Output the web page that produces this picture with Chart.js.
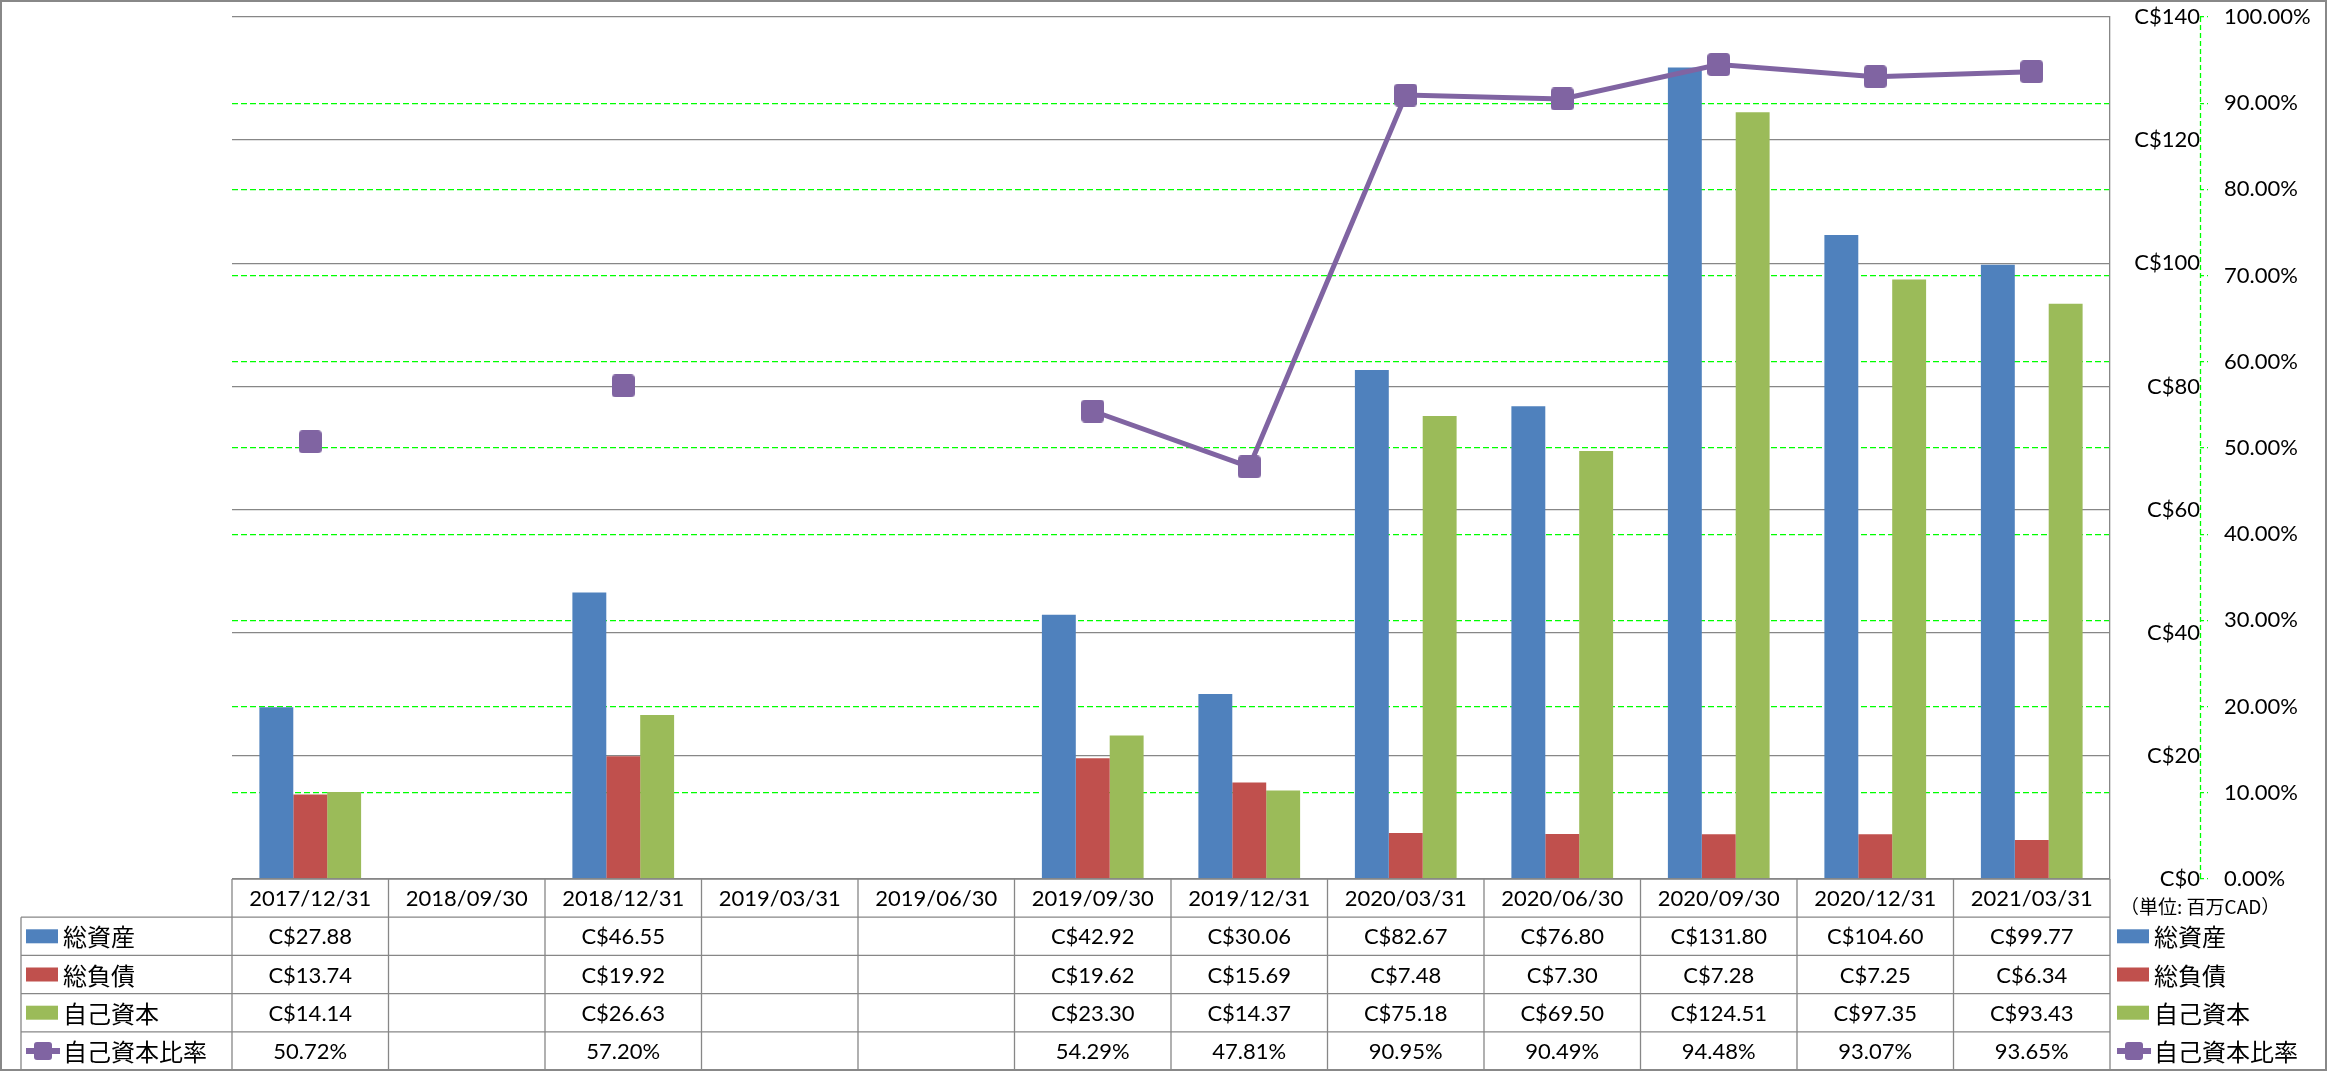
<!DOCTYPE html>
<html>
<head>
<meta charset="utf-8">
<script src="https://cdn.jsdelivr.net/npm/chart.js@4.4.1/dist/chart.umd.min.js"></script>
<style>
  html, body { margin: 0; padding: 0; background: #fff; }
  #wrap { width: 2327px; height: 1071px; position: relative; }
</style>
</head>
<body>
<div id="wrap"><canvas id="chart"></canvas></div>
<script>
// 決算期
const periods = ['2017/12/31', '2018/09/30', '2018/12/31', '2019/03/31', '2019/06/30', '2019/09/30',
  '2019/12/31', '2020/03/31', '2020/06/30', '2020/09/30', '2020/12/31', '2021/03/31'];
// 単位: 百万CAD
const totalAssets = [27.88, null, 46.55, null, null, 42.92, 30.06, 82.67, 76.80, 131.80, 104.60, 99.77];
const totalLiabilities = [13.74, null, 19.92, null, null, 19.62, 15.69, 7.48, 7.30, 7.28, 7.25, 6.34];
const equity = [14.14, null, 26.63, null, null, 23.30, 14.37, 75.18, 69.50, 124.51, 97.35, 93.43];
// 自己資本比率 (%)
const equityRatio = [50.72, null, 57.20, null, null, 54.29, 47.81, 90.95, 90.49, 94.48, 93.07, 93.65];

const seriesNames = ['総資産', '総負債', '自己資本', '自己資本比率'];
const seriesColors = ['#4F81BD', '#C0504D', '#9BBB59', '#8064A2'];
const unitLabel = '（単位: 百万CAD）';

const LATIN = "Lato, 'Noto Sans CJK JP', sans-serif";
const CJK = "'Noto Sans CJK JP', sans-serif";
const gridGray = '#878787';
const green = '#00FF00';

const fmtMoney = v => 'C$' + v.toFixed(2);
const fmtPct = v => v.toFixed(2) + '%';

// マーカー (角の少し丸い四角)
const marker = document.createElement('canvas');
marker.width = 23;
marker.height = 23;
{
  const m = marker.getContext('2d');
  m.fillStyle = seriesColors[3];
  m.beginPath();
  m.roundRect(0, 0, 23, 23, 4);
  m.fill();
}

// 表・凡例・外枠
const tablePlugin = {
  id: 'dataTable',
  beforeDraw(chart) {
    const ctx = chart.ctx;
    ctx.save();
    ctx.fillStyle = '#fff';
    ctx.fillRect(0, 0, chart.width, chart.height);
    ctx.restore();
  },
  afterDraw(chart) {
    const ctx = chart.ctx;
    const area = chart.chartArea;
    const xs = chart.scales.x;
    const n = periods.length;
    const colW = (area.right - area.left) / n;
    const top = area.bottom;
    const rowH = 38.2;
    const leftEdge = 21;
    const bottom = top + rowH * 5;

    const rows = [
      { values: totalAssets, fmt: fmtMoney },
      { values: totalLiabilities, fmt: fmtMoney },
      { values: equity, fmt: fmtMoney },
      { values: equityRatio, fmt: fmtPct }
    ];

    ctx.save();
    // 罫線
    ctx.strokeStyle = gridGray;
    ctx.lineWidth = 1.3;
    ctx.beginPath();
    ctx.moveTo(area.left, top);
    ctx.lineTo(area.right, top);
    for (let k = 1; k <= 5; k++) {
      ctx.moveTo(leftEdge, top + rowH * k);
      ctx.lineTo(area.right, top + rowH * k);
    }
    for (let i = 0; i <= n; i++) {
      const x = area.left + i * colW;
      ctx.moveTo(x, top);
      ctx.lineTo(x, bottom);
    }
    ctx.moveTo(leftEdge, top + rowH);
    ctx.lineTo(leftEdge, bottom);
    ctx.stroke();

    // 見出し
    ctx.fillStyle = '#000';
    ctx.textAlign = 'center';
    ctx.textBaseline = 'middle';
    ctx.font = '22px ' + LATIN;
    periods.forEach((p, i) => {
      ctx.fillText(p, xs.getPixelForValue(i), top + rowH / 2 + 1);
    });

    // 数値
    rows.forEach((r, k) => {
      const cy = top + rowH * (k + 1) + rowH / 2 + 1;
      r.values.forEach((v, i) => {
        if (v === null) return;
        ctx.fillText(r.fmt(v), xs.getPixelForValue(i), cy);
      });
    });

    // 凡例キー (表の左 / 右側)
    const drawKey = (k, x0) => {
      const cy = top + rowH * (k + 1) + rowH / 2;
      if (k < 3) {
        ctx.fillStyle = seriesColors[k];
        ctx.fillRect(x0, cy - 7, 32, 14);
      } else {
        ctx.strokeStyle = seriesColors[3];
        ctx.lineWidth = 6;
        ctx.beginPath();
        ctx.moveTo(x0, cy);
        ctx.lineTo(x0 + 34, cy);
        ctx.stroke();
        ctx.fillStyle = seriesColors[3];
        ctx.beginPath();
        ctx.roundRect(x0 + 8, cy - 9, 18, 18, 3);
        ctx.fill();
      }
      ctx.fillStyle = '#000';
      ctx.textAlign = 'left';
      ctx.font = '24px ' + CJK;
      ctx.fillText(seriesNames[k], x0 + 37, cy + 1);
    };
    for (let k = 0; k < 4; k++) {
      drawKey(k, 26);
      drawKey(k, 2117);
    }

    // 単位
    ctx.fillStyle = '#000';
    ctx.textAlign = 'left';
    ctx.font = '19px ' + CJK;
    ctx.fillText(unitLabel, 2120, top + 28);

    // 第2軸の破線
    const y1 = chart.scales.y1;
    ctx.strokeStyle = green;
    ctx.lineWidth = 1.3;
    ctx.setLineDash([5, 3]);
    ctx.beginPath();
    ctx.moveTo(y1.left + 0.5, y1.top);
    ctx.lineTo(y1.left + 0.5, y1.bottom);
    ctx.stroke();
    ctx.setLineDash([]);

    // 外枠
    ctx.strokeStyle = '#888';
    ctx.lineWidth = 2;
    ctx.strokeRect(1, 1, chart.width - 2, chart.height - 2);
    ctx.restore();
  }
};

Chart.defaults.font.family = LATIN;
Chart.defaults.font.size = 22;
Chart.defaults.color = '#000';

const noPad = s => { s.paddingTop = 0; s.paddingBottom = 0; };

new Chart(document.getElementById('chart'), {
  data: {
    labels: periods,
    datasets: [
      {
        type: 'line', label: seriesNames[3], data: equityRatio, yAxisID: 'y1', order: 0,
        borderColor: seriesColors[3], backgroundColor: seriesColors[3], borderWidth: 5,
        pointStyle: marker, pointRadius: 12,
        tension: 0, spanGaps: false
      },
      { type: 'bar', label: seriesNames[0], data: totalAssets, backgroundColor: seriesColors[0], yAxisID: 'y', order: 1 },
      { type: 'bar', label: seriesNames[1], data: totalLiabilities, backgroundColor: seriesColors[1], yAxisID: 'y', order: 1 },
      { type: 'bar', label: seriesNames[2], data: equity, backgroundColor: seriesColors[2], yAxisID: 'y', order: 1 }
    ]
  },
  options: {
    responsive: true,
    maintainAspectRatio: false,
    animation: false,
    devicePixelRatio: 1,
    layout: { padding: { left: 232, top: 15, bottom: 192, right: 0 } },
    datasets: { bar: { categoryPercentage: 0.65, barPercentage: 1 } },
    plugins: { legend: { display: false }, tooltip: { enabled: false } },
    scales: {
      x: { display: false, offset: true },
      y: {
        position: 'right', weight: 0, min: 0, max: 140,
        ticks: { stepSize: 20, padding: 22, crossAlign: 'far', callback: v => 'C$' + v },
        grid: { color: gridGray, lineWidth: 1.3, drawTicks: false },
        border: { display: true, color: gridGray, width: 1.3 },
        afterFit: s => { s.width = 90; noPad(s); }
      },
      y1: {
        position: 'right', weight: 1, min: 0, max: 100,
        ticks: { stepSize: 10, padding: 16, callback: v => v.toFixed(2) + '%' },
        grid: {
          color: c => (c.tick && (c.tick.value === 0 || c.tick.value === 100)) ? 'rgba(0,0,0,0)' : green,
          lineWidth: 1.3, drawOnChartArea: true, drawTicks: true,
          tickLength: 8, tickColor: green, tickBorderDash: [4, 3]
        },
        border: { display: false, dash: [6, 3] },
        afterFit: s => { s.width = 127; noPad(s); }
      }
    }
  },
  plugins: [tablePlugin]
});
</script>
</body>
</html>
